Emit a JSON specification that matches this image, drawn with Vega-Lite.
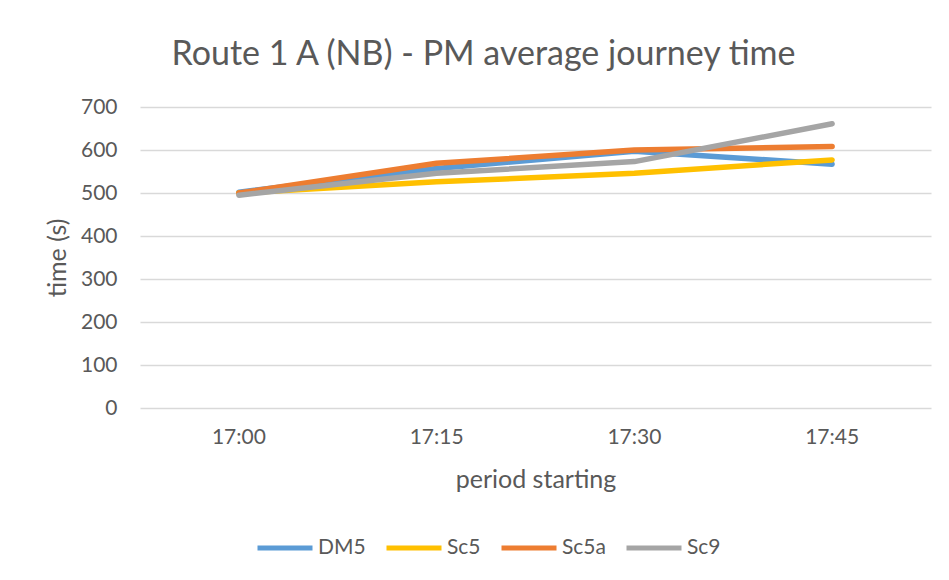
{
  "$schema": "https://vega.github.io/schema/vega-lite/v6.json",
  "autosize": {"type": "none"},
  "width": 791,
  "height": 301,
  "padding": {"left": 140, "top": 107, "right": 18, "bottom": 172},
  "background": "white",
  "title": {
    "text": "Route 1 A (NB) - PM average journey time",
    "font": "Lato",
    "fontSize": 34,
    "fontWeight": "normal",
    "color": "#595959",
    "anchor": "middle",
    "frame": "group",
    "dx": -52,
    "offset": 24
  },
  "data": {
    "values": [
      {"period": "17:00", "series": "DM5", "time": 502},
      {"period": "17:15", "series": "DM5", "time": 557},
      {"period": "17:30", "series": "DM5", "time": 597},
      {"period": "17:45", "series": "DM5", "time": 567},
      {"period": "17:00", "series": "Sc5", "time": 500},
      {"period": "17:15", "series": "Sc5", "time": 526},
      {"period": "17:30", "series": "Sc5", "time": 546},
      {"period": "17:45", "series": "Sc5", "time": 577},
      {"period": "17:00", "series": "Sc5a", "time": 500},
      {"period": "17:15", "series": "Sc5a", "time": 569},
      {"period": "17:30", "series": "Sc5a", "time": 600},
      {"period": "17:45", "series": "Sc5a", "time": 608},
      {"period": "17:00", "series": "Sc9", "time": 495},
      {"period": "17:15", "series": "Sc9", "time": 546},
      {"period": "17:30", "series": "Sc9", "time": 573},
      {"period": "17:45", "series": "Sc9", "time": 661}
    ]
  },
  "mark": {"type": "line", "strokeWidth": 5.5, "strokeCap": "round", "strokeJoin": "round"},
  "encoding": {
    "x": {
      "field": "period",
      "type": "ordinal",
      "scale": {"type": "band", "paddingInner": 0, "paddingOuter": 0},
      "axis": {
        "title": "period starting",
        "labelAngle": 0,
        "ticks": false,
        "domain": false,
        "grid": false,
        "labelPadding": 18,
        "titlePadding": 20,
        "labelFont": "Lato",
        "labelFontSize": 21,
        "labelColor": "#595959",
        "titleFont": "Lato",
        "titleFontSize": 25,
        "titleFontWeight": "normal",
        "titleColor": "#595959"
      }
    },
    "y": {
      "field": "time",
      "type": "quantitative",
      "scale": {"domain": [0, 700], "nice": false, "zero": true},
      "axis": {
        "title": "time (s)",
        "values": [0, 100, 200, 300, 400, 500, 600, 700],
        "ticks": false,
        "domain": false,
        "grid": true,
        "gridColor": "#d9d9d9",
        "gridWidth": 1.5,
        "labelPadding": 23,
        "titlePadding": 10,
        "labelFont": "Lato",
        "labelFontSize": 21,
        "labelColor": "#595959",
        "titleFont": "Lato",
        "titleFontSize": 25,
        "titleFontWeight": "normal",
        "titleColor": "#595959"
      }
    },
    "color": {
      "field": "series",
      "type": "nominal",
      "scale": {"domain": ["DM5", "Sc5", "Sc5a", "Sc9"], "range": ["#5B9BD5", "#FFC000", "#ED7D31", "#A5A5A5"]},
      "legend": {
        "title": null,
        "orient": "none",
        "direction": "horizontal",
        "legendX": 115,
        "legendY": 411,
        "symbolType": "stroke",
        "symbolSize": 3025,
        "symbolStrokeWidth": 5,
        "labelFont": "Lato",
        "labelFontSize": 21,
        "labelColor": "#595959",
        "labelOffset": 3,
        "columnPadding": 10
      }
    }
  },
  "config": {"view": {"stroke": null}}
}
